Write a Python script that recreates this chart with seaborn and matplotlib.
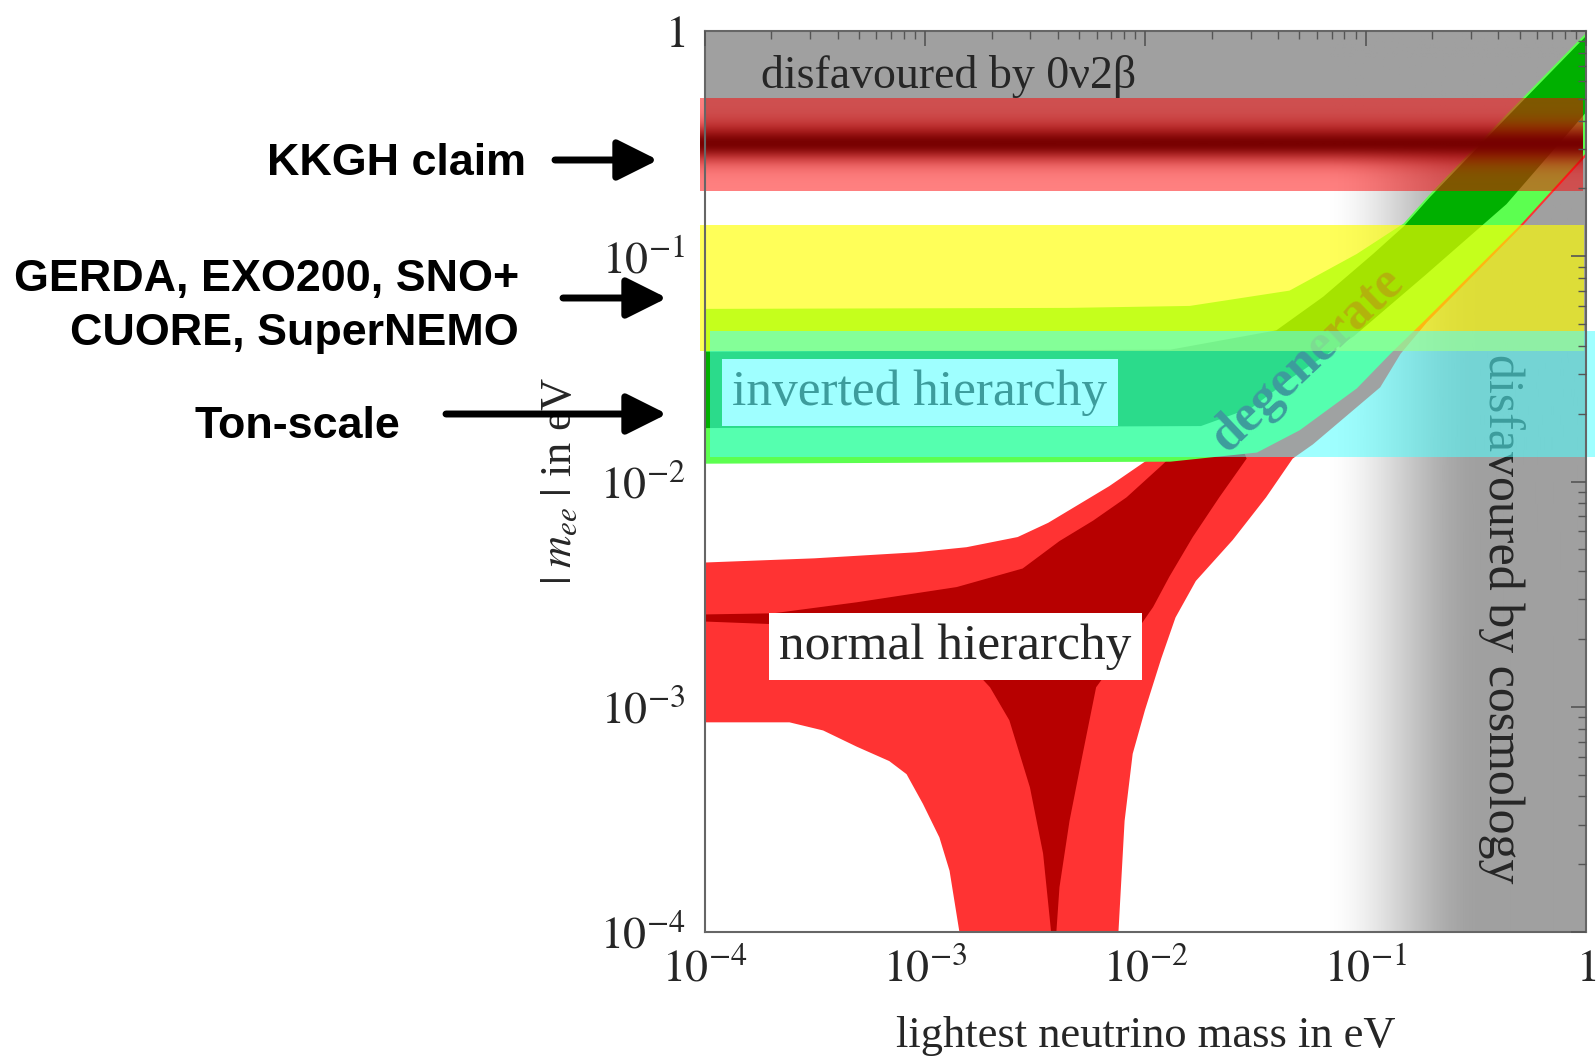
import numpy as np
import matplotlib
matplotlib.use('Agg')
import matplotlib.pyplot as plt
import seaborn as sns
from matplotlib import font_manager
from matplotlib.patches import FancyArrowPatch
from matplotlib.ticker import LogLocator, NullFormatter

# ---- axis ticks ----
tick_values = [1e-4, 1e-3, 1e-2, 1e-1, 1.0]
tick_labels = [r'$10^{-4}$', r'$10^{-3}$', r'$10^{-2}$', r'$10^{-1}$', r'$1$']

# ---- experimental sensitivity bands, |m_ee| in eV ----
kkgh_band = [0.194, 0.507]
gerda_band = [0.0378, 0.138]
tonscale_band = [0.0128, 0.0468]
bands_x = [9.5e-5, 0.978]
tonscale_x = [1.05e-4, 1.105]

# ---- disfavoured regions ----
ovbb_limit = 0.32             # above this: disfavoured by 0v2b
cosmo_fade = [0.064, 0.33]    # lightest mass where the cosmology gray fades in

# ---- normal hierarchy, outer region (light red) ----
nh_x = [1e-4, 3.13e-4, 9.06e-4, 1.54e-3, 2.63e-3, 3.62e-3, 4.98e-3, 6.85e-3, 0.0101,
        0.0221, 0.0641, 0.186, 0.539, 1.0, 1.0, 0.5114, 0.19, 0.144, 0.1164, 0.0576,
        0.0466, 0.0353, 0.0249, 0.01694, 0.01369, 0.0118, 9.95e-3, 8.75e-3, 8.04e-3,
        7.54e-3, 1.43e-3, 1.29e-3, 1.16e-3, 9.76e-4, 8.23e-4, 6.87e-4, 4.89e-4,
        3.44e-4, 2.42e-4, 1e-4]
nh_y = [4.37e-3, 4.56e-3, 4.85e-3, 5.11e-3, 5.67e-3, 6.56e-3, 7.91e-3, 9.54e-3, 0.01238,
        0.02127, 0.0489, 0.1247, 0.353, 0.626, 0.278, 0.1356, 0.051, 0.0369, 0.0262,
        0.01462, 0.01264, 8.51e-3, 5.50e-3, 3.62e-3, 2.49e-3, 1.64e-3, 9.67e-4, 6.18e-4,
        3.11e-4, 1e-4, 1e-4, 1.87e-4, 2.63e-4, 3.71e-4, 5.02e-4, 5.74e-4, 6.65e-4,
        7.85e-4, 8.53e-4, 8.53e-4]

# ---- normal hierarchy, inner region (dark red) ----
nh_core_x = [1e-4, 2.04e-4, 4.89e-4, 1.39e-3, 2.77e-3, 4.07e-3, 5.78e-3, 8.21e-3, 0.01167,
             0.01694, 0.0259, 0.0288, 0.02164, 0.0164, 0.01284, 0.01083, 8.04e-3, 5.97e-3,
             5.19e-3, 4.52e-3, 4.07e-3, 3.94e-3, 3.73e-3, 3.43e-3, 2.99e-3, 2.41e-3,
             1.97e-3, 1.54e-3, 7.32e-4, 3.13e-4, 1e-4]
nh_core_y = [2.57e-3, 2.60e-3, 2.91e-3, 3.40e-3, 4.11e-3, 5.44e-3, 6.70e-3, 8.51e-3, 0.01163,
             0.0164, 0.0164, 0.01264, 8.51e-3, 5.67e-3, 3.78e-3, 2.77e-3, 1.82e-3, 1.22e-3,
             6.18e-4, 3.11e-4, 1.58e-4, 1e-4, 1e-4, 2.23e-4, 4.38e-4, 8.71e-4,
             1.22e-3, 1.58e-3, 1.98e-3, 2.29e-3, 2.39e-3]

# ---- inverted hierarchy, outer region (light green) ----
ih_x = [1e-4, 4.48e-3, 0.0159, 0.0451, 0.0911, 0.1487, 0.196, 0.4357, 1.0,
        1.0, 0.5114, 0.186, 0.1295, 0.0911, 0.0502, 0.0321, 0.01298, 1e-4]
ih_y = [0.0584, 0.059, 0.0602, 0.0704, 0.1024, 0.1398, 0.189, 0.426, 0.979,
        0.2869, 0.1398, 0.0521, 0.0369, 0.0259, 0.0169, 0.01345, 0.01225, 0.012]

# ---- inverted hierarchy, inner region (dark green) ----
ih_core_x = [1e-4, 0.01298, 0.0393, 0.0641, 0.108, 0.1487, 0.196, 0.4357, 1.0,
             1.0, 0.4357, 0.186, 0.0882, 0.0466, 0.0304, 0.01786, 1e-4]
ih_core_y = [0.0377, 0.0385, 0.0469, 0.0661, 0.1024, 0.1356, 0.1833, 0.4128, 0.949,
             0.435, 0.1704, 0.0823, 0.0441, 0.0291, 0.02127, 0.01763, 0.01727]

gray = '#a0a0a0'

sns.set_theme(style='white')
plt.rcParams['font.family'] = ['Liberation Serif', 'DejaVu Serif']
plt.rcParams['mathtext.fontset'] = 'stix'

# narrow bold sans for the side notes, if there is one
names = {f.name for f in font_manager.fontManager.ttflist}
if 'Liberation Sans Narrow' in names:
    side_font, side_size = 'Liberation Sans Narrow', 37
else:
    side_font, side_size = 'Liberation Sans', 32.3

W, H = 1596, 1059
fig = plt.figure(figsize=(W / 100, H / 100), dpi=100)
fig.patch.set_facecolor('white')
ax = fig.add_axes([0.4417, 0.1199, 0.552, 0.8508])
ax.set_facecolor('white')
ax.set_xscale('log')
ax.set_yscale('log')

# disfavoured by 0v2b
ax.axhspan(ovbb_limit, 1.0, color=gray, lw=0, zorder=1)

# disfavoured by cosmology: gray fading in towards large masses
cols = np.linspace(cosmo_fade[0], 1.0, 1200)
t = np.clip((np.log10(cols) - np.log10(cosmo_fade[0]))
            / (np.log10(cosmo_fade[1]) - np.log10(cosmo_fade[0])), 0, 1)
fade = t * t * (3 - 2 * t)
img = np.zeros((2, len(cols), 4))
img[..., :3] = 160 / 255
img[..., 3] = fade[None, :]
ax.imshow(img, extent=[cosmo_fade[0], 1.0, 1e-4, 1.0], origin='lower',
          aspect='auto', interpolation='bilinear', zorder=1.1)

# hierarchy regions
ax.fill(nh_x, nh_y, color='#ff3333', lw=0, zorder=3)
ax.fill(nh_core_x, nh_core_y, color='#b70000', lw=0, zorder=3.1)
ax.fill(ih_x, ih_y, color='#5cff50', lw=0, zorder=3.2)
ax.fill(ih_core_x, ih_core_y, color='#00b000', lw=0, zorder=3.3)

# labels below the overlays
ax.text(0.0546, 0.035, 'degenerate', rotation=43.5, rotation_mode='anchor',
        fontsize=38, fontweight='bold', ha='center', va='center', zorder=3.5)
ax.text(9.46e-4, 0.02486, 'inverted hierarchy', fontsize=37, ha='center', va='center',
        zorder=3.6, bbox=dict(boxstyle='square,pad=0.2', fc='white', ec='none'))
ax.text(0.413, 2.466e-3, 'disfavoured by cosmology', rotation=-90, fontsize=36,
        ha='center', va='center', zorder=2)
ax.text(1.796e-4, 0.626, 'disfavoured by 0\u03bd2\u03b2', fontsize=33,
        ha='left', va='center', zorder=4.5)

# KKGH claim band: red with dark centre
ys = np.linspace(kkgh_band[0], kkgh_band[1], 500)
tt = (np.log10(ys) - np.log10(kkgh_band[0])) / (np.log10(kkgh_band[1]) - np.log10(kkgh_band[0]))
w = np.exp(-((tt - 0.5) / 0.2) ** 2)
band = np.zeros((len(ys), 2, 4))
band[..., 0] = ((255 - 135 * w) / 255)[:, None]
band[..., 3] = (0.5 + 0.5 * w)[:, None]
ax.imshow(band, extent=[bands_x[0], bands_x[1], kkgh_band[0], kkgh_band[1]],
          origin='lower', aspect='auto', interpolation='bilinear', zorder=4, clip_on=False)

# GERDA etc. and ton-scale bands
ax.fill_between(bands_x, gerda_band[0], gerda_band[1], color=(1, 1, 0), alpha=0.65,
                lw=0, zorder=5, clip_on=False)
ax.fill_between(tonscale_x, tonscale_band[0], tonscale_band[1], color=(80 / 255, 1, 1),
                alpha=0.55, lw=0, zorder=6, clip_on=False)

ax.text(1.373e-3, 1.853e-3, 'normal hierarchy', fontsize=37, ha='center', va='center',
        zorder=7, bbox=dict(boxstyle='square,pad=0.2', fc='white', ec='none'))

ax.set_xlim(1e-4, 1.0)
ax.set_ylim(1e-4, 1.0)
ax.set_xticks(tick_values, tick_labels)
ax.set_yticks(tick_values, tick_labels)
for axis in (ax.xaxis, ax.yaxis):
    axis.set_minor_locator(LogLocator(base=10, subs=np.arange(2, 10)))
    axis.set_minor_formatter(NullFormatter())
    axis.set_zorder(10)
ax.tick_params(which='both', direction='in', top=True, right=True, color='#555555')
ax.tick_params(which='major', length=11, width=1.2, labelsize=33)
ax.tick_params(which='minor', length=6, width=1.0)
ax.tick_params(axis='x', which='major', pad=12)
ax.tick_params(axis='y', which='major', pad=14)
for sp in ax.spines.values():
    sp.set_color('#666666')
    sp.set_linewidth(1.5)
    sp.set_zorder(10)

ax.set_xlabel('lightest neutrino mass in eV', fontsize=32)
ax.set_ylabel(r'$|\;m_{ee}\;|$ in eV', fontsize=32)
ax.xaxis.set_label_coords(0.5, -0.093)
ax.yaxis.set_label_coords(-0.142, 0.5)

# annotations on the left
side = dict(ha='right', va='baseline', fontsize=side_size, fontweight='bold',
            family=[side_font, 'Liberation Sans', 'DejaVu Sans'], color='black')
fig.text(526 / W, 1 - 175 / H, 'KKGH claim', **side)
fig.text(519 / W, 1 - 291 / H, 'GERDA, EXO200, SNO+', **side)
fig.text(519 / W, 1 - 345 / H, 'CUORE, SuperNEMO', **side)
fig.text(400 / W, 1 - 438 / H, 'Ton-scale', **side)

for x0, x1, y in [(555, 658, 160), (563, 667, 298), (446, 667, 414)]:
    fig.add_artist(FancyArrowPatch((x0 / W, 1 - y / H), (x1 / W, 1 - y / H),
                                   transform=fig.transFigure,
                                   arrowstyle='-|>,head_length=0.4,head_width=0.2',
                                   mutation_scale=62, lw=5, color='black',
                                   shrinkA=0, shrinkB=0, zorder=20))

fig.savefig('out.png', dpi=100)
